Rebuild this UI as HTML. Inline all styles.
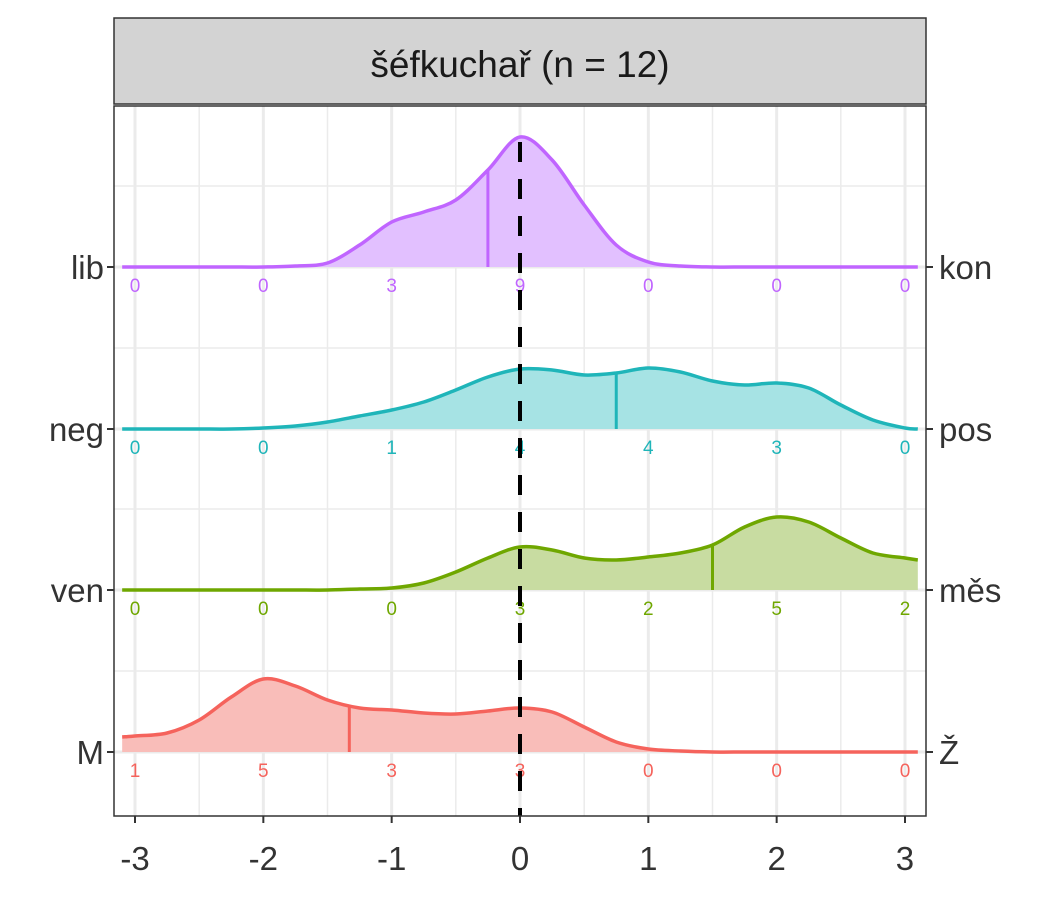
<!DOCTYPE html>
<html><head><meta charset="utf-8"><style>
body{margin:0;background:#fff;font-family:"Liberation Sans",sans-serif}
</style></head><body>
<svg id="chart" width="1050" height="900" xmlns="http://www.w3.org/2000/svg">
<rect x="0" y="0" width="1050" height="900" fill="#fff"/>
<rect x="114" y="18" width="812" height="86" fill="#d3d3d3" stroke="#333" stroke-width="1.5"/>
<text x="520" y="77" font-size="37" text-anchor="middle" fill="#1a1a1a">šéfkuchař (n = 12)</text>
<g id="grid"></g>
<g id="ridges"></g>
<line x1="520" y1="142" x2="520" y2="816" stroke="#000" stroke-width="4" stroke-dasharray="20,17"/>
<rect x="114" y="106" width="812" height="710" fill="none" stroke="#333" stroke-width="1.5"/>
<g id="axes"></g>
</svg>
<script>
const xs = [-3.1,-3,-2.75,-2.5,-2.25,-2,-1.75,-1.5,-1.25,-1,-0.75,-0.5,-0.25,0,0.25,0.5,0.75,1,1.25,1.5,1.75,2,2.25,2.5,2.75,3,3.1];
const leftLabels = ["lib","neg","ven","M"];
const rightLabels = ["kon","pos","měs","Ž"];
const densLib = [0,0,0,0,0,0,1,4,22,45,55,67,97,130,107,62,22,5,1,0,0,0,0,0,0,0,0];
const densNeg = [0,0,0,0,0,1,3,7,13,19,27,39,52,60,59,54,56,61,57,48,44,46,41,24,9,1,0];
const densVen = [0,0,0,0,0,0,0,0,1,2,7,18,32,43,40,32,30,33,37,45,63,73,68,52,37,32,30];
const densM = [15,16,19,32,55,73,66,52,44,42,39,38,41,44,40,25,10,3,1,0,0,0,0,0,0,0,0];
const meansArr = [-0.25,0.75,1.5,-1.33];
const countsLib = [0,0,3,9,0,0,0];
const countsNeg = [0,0,1,4,4,3,0];
const countsVen = [0,0,0,3,2,5,2];
const countsM = [1,5,3,3,0,0,0];
const xTicks = [-3,-2,-1,0,1,2,3];
const lineColors = ["#c065ff","#1fb5b9","#6fa700","#f5635c"];
const fillColors = ["#e2c0ff","#a6e3e4","#c8dca1","#f9bdb9"];
const baselines = [267,429,590,752];
const X = v => 520 + v*128.33;
const ns = "http://www.w3.org/2000/svg";
function mk(tag, attrs, parent){const e=document.createElementNS(ns,tag);for(const k in attrs)e.setAttribute(k,attrs[k]);parent.appendChild(e);return e;}
const grid=document.getElementById('grid'), ridges=document.getElementById('ridges'), axes=document.getElementById('axes');
for(let v=-3;v<=3;v+=0.5){const g=mk('line',{x1:X(v),x2:X(v),y1:106,y2:816,stroke:'#ebebeb','stroke-width':Number.isInteger(v)?3:1.5},grid);

}
baselines.forEach(b=>{[b,b-81].forEach((y,i)=>{const g=mk('line',{x1:114,x2:926,y1:y,y2:y,stroke:'#ebebeb','stroke-width':i?1.5:3},grid);

});});
function interp(d,v){for(let i=0;i<xs.length-1;i++){if(v>=xs[i]&&v<=xs[i+1]){const t=(v-xs[i])/(xs[i+1]-xs[i]);return d[i]+(d[i+1]-d[i])*t;}}return 0;}
function smoothPath(pts){let p='M'+pts[0][0]+','+pts[0][1];for(let i=0;i<pts.length-1;i++){const p0=pts[Math.max(i-1,0)],p1=pts[i],p2=pts[i+1],p3=pts[Math.min(i+2,pts.length-1)];
const c1=[p1[0]+(p2[0]-p0[0])/6,p1[1]+(p2[1]-p0[1])/6],c2=[p2[0]-(p3[0]-p1[0])/6,p2[1]-(p3[1]-p1[1])/6];
p+=' C'+c1[0].toFixed(1)+','+c1[1].toFixed(1)+' '+c2[0].toFixed(1)+','+c2[1].toFixed(1)+' '+p2[0].toFixed(1)+','+p2[1].toFixed(1);}return p;}
const dens=[densLib,densNeg,densVen,densM], counts=[countsLib,countsNeg,countsVen,countsM];
dens.forEach((d,r)=>{const b=baselines[r];const pts=xs.map((v,i)=>[X(v),b-d[i]]);const line=smoothPath(pts);
const area=mk('path',{d:line+' L'+X(xs[xs.length-1])+','+b+' L'+X(xs[0])+','+b+' Z',fill:fillColors[r],stroke:'none'},ridges);


const l=mk('path',{d:line,fill:'none',stroke:lineColors[r],'stroke-width':3.5},ridges);


const m=meansArr[r];const ml=mk('line',{x1:X(m),x2:X(m),y1:b,y2:b-interp(d,m),stroke:lineColors[r],'stroke-width':3},ridges);


counts[r].forEach((c,i)=>{const t=mk('text',{x:X(xTicks[i]),y:b+25,'font-size':19,'text-anchor':'middle',fill:lineColors[r]},ridges);t.textContent=c;

});
const lt=mk('line',{x1:107,x2:114,y1:b,y2:b,stroke:'#333','stroke-width':2},axes);


const rt=mk('line',{x1:926,x2:933,y1:b,y2:b,stroke:'#333','stroke-width':2},axes);


const ll=mk('text',{x:104,y:b+12,'font-size':33,'text-anchor':'end',fill:'#333'},axes);ll.textContent=leftLabels[r];


const rl=mk('text',{x:939,y:b+12,'font-size':33,'text-anchor':'start',fill:'#333'},axes);rl.textContent=rightLabels[r];

});
xTicks.forEach(v=>{const t=mk('line',{x1:X(v),x2:X(v),y1:816,y2:823,stroke:'#333','stroke-width':2},axes);


const tx=mk('text',{x:X(v),y:870,'font-size':33,'text-anchor':'middle',fill:'#333'},axes);tx.textContent=v;

});
</script>
</body></html>
